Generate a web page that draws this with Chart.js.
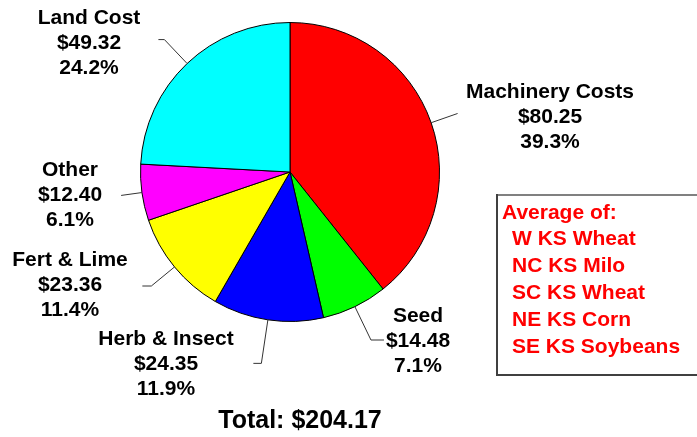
<!DOCTYPE html>
<html>
<head>
<meta charset="utf-8">
<script src="https://cdn.jsdelivr.net/npm/chart.js@4"></script>
<style>
  html, body { margin: 0; padding: 0; background: #fff; }
  #wrap { width: 697px; height: 437px; position: relative; }
</style>
</head>
<body>
<div id="wrap"><canvas id="costChart"></canvas></div>
<script>
// Data
const categories = ['Machinery Costs', 'Seed', 'Herb & Insect', 'Fert & Lime', 'Other', 'Land Cost'];
const costs = [80.25, 14.48, 24.35, 23.36, 12.40, 49.32];
const percents = ['39.3%', '7.1%', '11.9%', '11.4%', '6.1%', '24.2%'];
const sliceColors = ['#FF0000', '#00FF00', '#0000FF', '#FFFF00', '#FF00FF', '#00FFFF'];
const legendTitle = 'Average of:';
const legendItems = ['W KS Wheat', 'NC KS Milo', 'SC KS Wheat', 'NE KS Corn', 'SE KS Soybeans'];
const totalText = 'Total: $204.17';

// label layout: leader radial length, horizontal tail, text centre x, first baseline y
const labelLayout = [
    { radial: 28, tail: 0, x: 550, y: 98 },
    { radial: 37, tail: 13, x: 418, y: 322 },
    { radial: 44, tail: -8, x: 166, y: 345 },
    { radial: 30, tail: -9, x: 70, y: 266 },
    { radial: 21, tail: 0, x: 70, y: 176 },
    { radial: 33, tail: -6, x: 89, y: 24 }
];

const FONT = 'bold 21px "Liberation Sans", Arial, sans-serif';

const labelPlugin = {
    id: 'pieLabels',
    afterDraw(chart) {
        const ctx = chart.ctx;
        const meta = chart.getDatasetMeta(0);
        ctx.save();
        meta.data.forEach((arc, i) => {
            const mid = (arc.startAngle + arc.endAngle) / 2;
            const r = arc.outerRadius;
            const lay = labelLayout[i];
            const x0 = arc.x + Math.cos(mid) * r;
            const y0 = arc.y + Math.sin(mid) * r;
            const x1 = arc.x + Math.cos(mid) * (r + lay.radial);
            const y1 = arc.y + Math.sin(mid) * (r + lay.radial);
            ctx.strokeStyle = '#333';
            ctx.lineWidth = 1;
            ctx.beginPath();
            ctx.moveTo(x0, y0);
            ctx.lineTo(x1, y1);
            ctx.lineTo(x1 + lay.tail, y1);
            ctx.stroke();

            ctx.fillStyle = '#000';
            ctx.font = FONT;
            ctx.textAlign = 'center';
            ctx.textBaseline = 'alphabetic';
            const lines = [categories[i], '$' + costs[i].toFixed(2), percents[i]];
            lines.forEach((t, k) => ctx.fillText(t, lay.x, lay.y + k * 25));
        });

        // legend box
        ctx.fillStyle = '#808080';
        ctx.fillRect(496, 194, 201, 2);
        ctx.fillStyle = '#404040';
        ctx.fillRect(496, 194, 2, 182);
        ctx.fillRect(496, 374, 201, 2);

        ctx.fillStyle = '#FF0000';
        ctx.font = FONT;
        ctx.textAlign = 'left';
        ctx.fillText(legendTitle, 502, 219);
        legendItems.forEach((t, k) => ctx.fillText(t, 512, 245 + k * 27));

        // total
        ctx.fillStyle = '#000';
        ctx.font = 'bold 25px "Liberation Sans", Arial, sans-serif';
        ctx.textAlign = 'center';
        ctx.fillText(totalText, 300, 428);
        ctx.restore();
    }
};

window.onload = function() {
    const ctx = document.getElementById('costChart').getContext('2d');
    new Chart(ctx, {
        type: 'pie',
        data: {
            labels: categories,
            datasets: [{
                data: costs,
                backgroundColor: sliceColors,
                borderColor: '#000',
                borderWidth: 1
            }]
        },
        options: {
            responsive: true,
            maintainAspectRatio: false,
            animation: false,
            layout: {
                padding: { left: 140, top: 22, right: 257, bottom: 115 }
            },
            plugins: {
                legend: { display: false },
                tooltip: { enabled: false }
            }
        },
        plugins: [labelPlugin]
    });
};
</script>
</body>
</html>
